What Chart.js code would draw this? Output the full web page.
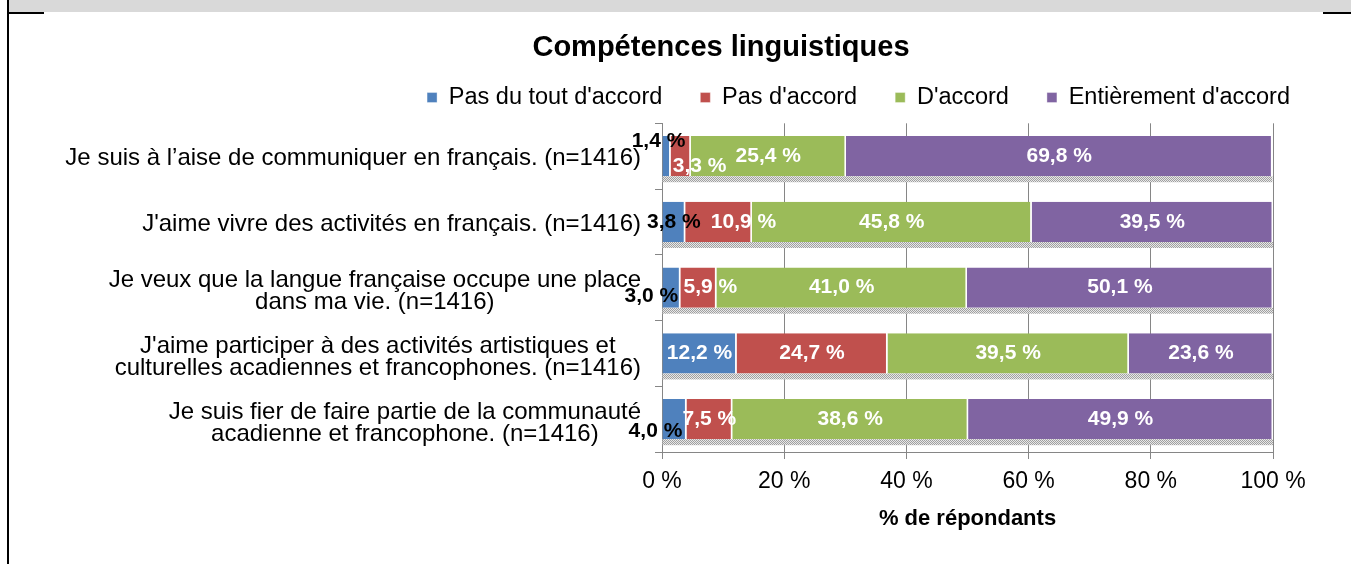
<!DOCTYPE html>
<html lang="fr">
<head>
<meta charset="utf-8">
<title>Compétences linguistiques</title>
<script src="https://cdn.jsdelivr.net/npm/chart.js@4.4.1/dist/chart.umd.min.js"></script>
<style>
  html, body { margin: 0; padding: 0; background: #fff; overflow: hidden; }
  #page { position: relative; width: 1351px; height: 564px; }
  .band { position: absolute; left: 9px; top: 0; width: 1342px; height: 12px; background: #d9d9d9; }
  .rule { position: absolute; background: #000; }
  canvas { position: absolute; left: 0; top: 0; }
</style>
</head>
<body>
<div id="page">
  <div class="band"></div>
  <div class="rule" style="left:7px;top:0;width:2px;height:564px"></div>
  <div class="rule" style="left:7px;top:12px;width:37px;height:2px"></div>
  <div class="rule" style="left:1323px;top:12px;width:28px;height:2px"></div>
  <canvas id="mygraph" width="1351" height="564"></canvas>
</div>
<script>
const categories = [
  ["Je suis à l’aise de communiquer en français. (n=1416)"],
  ["J'aime vivre des activités en français. (n=1416)"],
  ["Je veux que la langue française occupe une place", "dans ma vie. (n=1416)"],
  ["J'aime participer à des activités artistiques et", "culturelles acadiennes et francophones. (n=1416)"],
  ["Je suis fier de faire partie de la communauté", "acadienne et francophone. (n=1416)"]
]
const seriesNames = ["Pas du tout d'accord", "Pas d'accord", "D'accord", "Entièrement d'accord"]
const pasDuTout   = [1.4, 3.8, 3.0, 12.2, 4.0]
const pasDaccord  = [3.3, 10.9, 5.9, 24.7, 7.5]
const daccord     = [25.4, 45.8, 41.0, 39.5, 38.6]
const entierement = [69.8, 39.5, 50.1, 23.6, 49.9]
const xTickValues = [0, 20, 40, 60, 80, 100]

const FONT = "'Liberation Sans', Arial, sans-serif"
Chart.defaults.font.family = FONT

// labels that Excel moved by hand (dataset-category)
const labelTweaks = {
  '0-0': { dx: -8, dy: -15, color: '#000' },
  '1-0': { dx: 19, dy: 10 },
  '0-1': { color: '#000' },
  '1-1': { dx: 25 },
  '0-2': { dx: -20, dy: 9, color: '#000' },
  '1-2': { dx: 12 },
  '0-4': { dx: -19, dy: 12, color: '#000' }
}

const fmt = v => v.toFixed(1).replace('.', ',') + ' %'

function ditherPattern(ctx) {
  const c = document.createElement('canvas')
  c.width = 2; c.height = 2
  const g = c.getContext('2d')
  g.fillStyle = '#e8e8e8'; g.fillRect(0, 0, 2, 2)
  g.fillStyle = '#a0a0a0'; g.fillRect(0, 0, 1, 1); g.fillRect(1, 1, 1, 1)
  return ctx.createPattern(c, 'repeat')
}

// grey band under each bar
const barShadow = {
  id: 'barShadow',
  beforeDatasetsDraw(chart) {
    const ctx = chart.ctx
    const first = chart.getDatasetMeta(0)
    const last = chart.getDatasetMeta(chart.data.datasets.length - 1)
    ctx.save()
    ctx.fillStyle = ditherPattern(ctx)
    last.data.forEach((bar, i) => {
      const left = first.data[i].base
      const bottom = bar.y + bar.height / 2
      ctx.fillRect(left, bottom, bar.x - left, 6)
    })
    ctx.restore()
  }
}

const valueLabels = {
  id: 'valueLabels',
  afterDatasetsDraw(chart) {
    const ctx = chart.ctx
    ctx.save()
    ctx.font = 'bold 21px ' + FONT
    ctx.textAlign = 'center'
    ctx.textBaseline = 'middle'
    chart.data.datasets.forEach((ds, d) => {
      chart.getDatasetMeta(d).data.forEach((bar, i) => {
        const t = labelTweaks[d + '-' + i] || {}
        ctx.fillStyle = t.color || '#fff'
        ctx.fillText(fmt(ds.data[i]), (bar.x + bar.base) / 2 + (t.dx || 0), bar.y + (t.dy || 0))
      })
    })
    ctx.restore()
  }
}

// category text, each label centred on itself like Excel does
const categoryLabels = {
  id: 'categoryLabels',
  afterDraw(chart) {
    const scale = chart.scales.y
    const ctx = chart.ctx
    ctx.save()
    ctx.font = '24px ' + FONT
    ctx.fillStyle = '#000'
    ctx.textAlign = 'center'
    ctx.textBaseline = 'middle'
    const right = scale.right - 21
    categories.forEach((lines, i) => {
      const w = Math.max(...lines.map(l => ctx.measureText(l).width))
      const cx = right - w / 2
      const y0 = scale.getPixelForValue(i) + 2 - (lines.length - 1) * 22 / 2 + (lines.length - 1) * 2
      lines.forEach((l, k) => ctx.fillText(l, cx, y0 + k * 22))
    })
    ctx.restore()
  }
}

// a bit more room under the legend
const legendRoom = {
  id: 'legendRoom',
  afterInit(chart) {
    const legend = chart.legend
    if (!legend) return
    const fit = legend.fit.bind(legend)
    legend.fit = function () { fit(); this.height += 4 }
  }
}

const colors = ['#4F81BD', '#C0504D', '#9BBB59', '#8064A2']
const values = [pasDuTout, pasDaccord, daccord, entierement]

const data = {
  labels: categories,
  datasets: seriesNames.map((name, k) => ({
    label: name,
    data: values[k],
    backgroundColor: colors[k],
    borderColor: '#ffffff',
    borderWidth: { right: 1.5 },
    borderSkipped: false,
    barPercentage: 0.61,
    categoryPercentage: 1
  }))
}

const config = {
  type: 'bar',
  data,
  options: {
    indexAxis: 'y',
    responsive: false,
    animation: false,
    layout: { padding: { left: 114, right: 23, top: 0, bottom: 28 } },
    scales: {
      x: {
        stacked: true,
        min: 0,
        max: 100,
        afterBuildTicks: s => { s.ticks = xTickValues.map(v => ({ value: v })) },
        afterFit: s => { s.paddingRight = 78 },
        grid: { color: '#868686', tickLength: 7 },
        border: { color: '#868686' },
        ticks: { padding: 9, color: '#000', font: { size: 23 }, callback: v => v + ' %' },
        title: {
          display: true,
          text: '% de répondants',
          color: '#000',
          font: { size: 22, weight: 'bold' },
          padding: { top: 1, bottom: 4 }
        }
      },
      y: {
        stacked: true,
        afterFit: s => { s.width = 548 },
        grid: { drawOnChartArea: false, color: '#868686', tickLength: 7 },
        border: { color: '#868686' },
        ticks: { display: false }
      }
    },
    plugins: {
      title: {
        display: true,
        text: 'Compétences linguistiques',
        color: '#000',
        font: { size: 29, weight: 'bold' },
        padding: { top: 31, bottom: -18 }
      },
      legend: {
        position: 'top',
        align: 'end',
        labels: { boxWidth: 10, boxHeight: 10, padding: 38, color: '#000', font: { size: 23.5 } }
      },
      tooltip: { enabled: false }
    }
  },
  plugins: [legendRoom, barShadow, valueLabels, categoryLabels]
}

const mygraph = new Chart(document.getElementById('mygraph'), config)
</script>
</body>
</html>
